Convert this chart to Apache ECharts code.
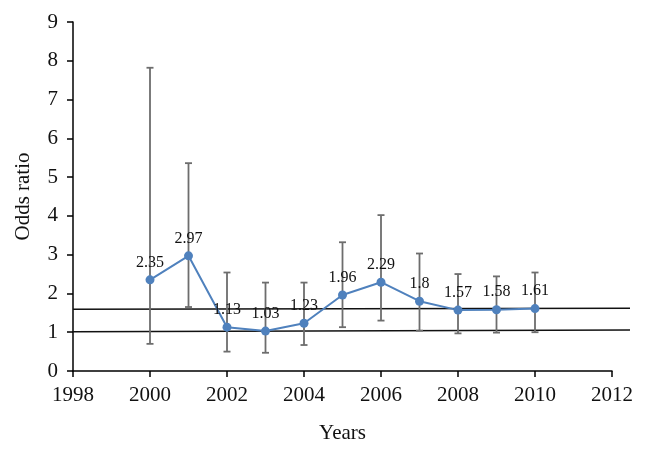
<!DOCTYPE html>
<html>
<head>
<meta charset="utf-8">
<script src="https://cdn.jsdelivr.net/npm/echarts@6/dist/echarts.min.js"></script>
<style>
  html, body { margin: 0; padding: 0; background: #fff; }
  #chart { width: 646px; height: 449px; }
</style>
</head>
<body>
<div id="chart"></div>
<script>
// Data
var years = [2000, 2001, 2002, 2003, 2004, 2005, 2006, 2007, 2008, 2009, 2010];
var oddsRatio = [2.35, 2.97, 1.13, 1.03, 1.23, 1.96, 2.29, 1.8, 1.57, 1.58, 1.61];
var ciLower = [0.70, 1.65, 0.50, 0.47, 0.67, 1.13, 1.30, 1.04, 0.97, 0.99, 1.00];
var ciUpper = [7.82, 5.36, 2.54, 2.28, 2.28, 3.32, 4.02, 3.03, 2.50, 2.44, 2.54];
// Reference lines (start / end of each)
var refLineX = [1998, 2012.47];
var refLineLow = [1.01, 1.06];
var refLineHigh = [1.59, 1.615];
var xTicks = { min: 1998, max: 2012, interval: 2 };
var yTicks = { min: 0, max: 9, interval: 1 };

var FONT = '"Liberation Serif", "DejaVu Serif", serif';

var chart = echarts.init(document.getElementById('chart'), null, { renderer: 'canvas' });

var errData = years.map(function (y, i) { return [y, ciLower[i], ciUpper[i]]; });
var lineData = years.map(function (y, i) { return [y, oddsRatio[i]]; });

var option = {
  animation: false,
  backgroundColor: '#ffffff',
  grid: [
    { left: 73, right: 34, top: 22, bottom: 78 },
    { left: 73, right: 16, top: 22, bottom: 78 }
  ],
  xAxis: [
    {
      type: 'value', gridIndex: 0,
      min: xTicks.min, max: xTicks.max, interval: xTicks.interval,
      name: 'Years', nameLocation: 'middle', nameGap: 52,
      nameTextStyle: { fontFamily: FONT, fontSize: 21, color: '#111' },
      axisLine: { show: true, onZero: false, lineStyle: { color: '#000', width: 1.5 } },
      axisTick: { show: true, inside: false, length: 6, lineStyle: { color: '#000', width: 1.5 } },
      axisLabel: { margin: 14, fontFamily: FONT, fontSize: 21, color: '#111',
        formatter: function (v) { return String(v); } },
      splitLine: { show: false }
    },
    {
      type: 'value', gridIndex: 1,
      min: refLineX[0], max: refLineX[1],
      show: false, splitLine: { show: false }
    }
  ],
  yAxis: [
    {
      type: 'value', gridIndex: 0,
      min: yTicks.min, max: yTicks.max, interval: yTicks.interval,
      name: 'Odds ratio', nameLocation: 'middle', nameGap: 39, nameRotate: 90,
      nameTextStyle: { fontFamily: FONT, fontSize: 21, color: '#111' },
      axisLine: { show: true, lineStyle: { color: '#000', width: 1.5 } },
      axisTick: { show: true, inside: false, length: 6, lineStyle: { color: '#000', width: 1.5 } },
      axisLabel: { margin: 15, fontFamily: FONT, fontSize: 21, color: '#111' },
      splitLine: { show: false }
    },
    {
      type: 'value', gridIndex: 1,
      min: yTicks.min, max: yTicks.max,
      show: false, splitLine: { show: false }
    }
  ],
  series: [
    {
      type: 'line', xAxisIndex: 1, yAxisIndex: 1,
      data: [[refLineX[0], refLineLow[0]], [refLineX[1], refLineLow[1]]],
      symbol: 'none', silent: true, z: 1,
      lineStyle: { color: '#111', width: 1.5 }
    },
    {
      type: 'line', xAxisIndex: 1, yAxisIndex: 1,
      data: [[refLineX[0], refLineHigh[0]], [refLineX[1], refLineHigh[1]]],
      symbol: 'none', silent: true, z: 1,
      lineStyle: { color: '#111', width: 1.5 }
    },
    {
      type: 'custom', xAxisIndex: 0, yAxisIndex: 0, z: 2,
      data: errData,
      encode: { x: 0, y: [1, 2] },
      renderItem: function (params, api) {
        var x = api.value(0);
        var lo = api.coord([x, api.value(1)]);
        var hi = api.coord([x, api.value(2)]);
        var hw = 3.5;
        var style = { stroke: '#6d6d6d', lineWidth: 1.8 };
        return {
          type: 'group',
          children: [
            { type: 'line', shape: { x1: lo[0], y1: lo[1], x2: hi[0], y2: hi[1] }, style: style },
            { type: 'line', shape: { x1: lo[0] - hw, y1: lo[1], x2: lo[0] + hw, y2: lo[1] }, style: style },
            { type: 'line', shape: { x1: hi[0] - hw, y1: hi[1], x2: hi[0] + hw, y2: hi[1] }, style: style }
          ]
        };
      }
    },
    {
      type: 'line', xAxisIndex: 0, yAxisIndex: 0, z: 3,
      data: lineData,
      symbol: 'circle', symbolSize: 9,
      itemStyle: { color: '#4f81bd' },
      lineStyle: { color: '#4f81bd', width: 2 },
      label: {
        show: true, position: 'top', distance: 5,
        fontFamily: FONT, fontSize: 16, color: '#111',
        formatter: function (p) { return String(p.value[1]); }
      }
    }
  ]
};
chart.setOption(option);
</script>
</body>
</html>
